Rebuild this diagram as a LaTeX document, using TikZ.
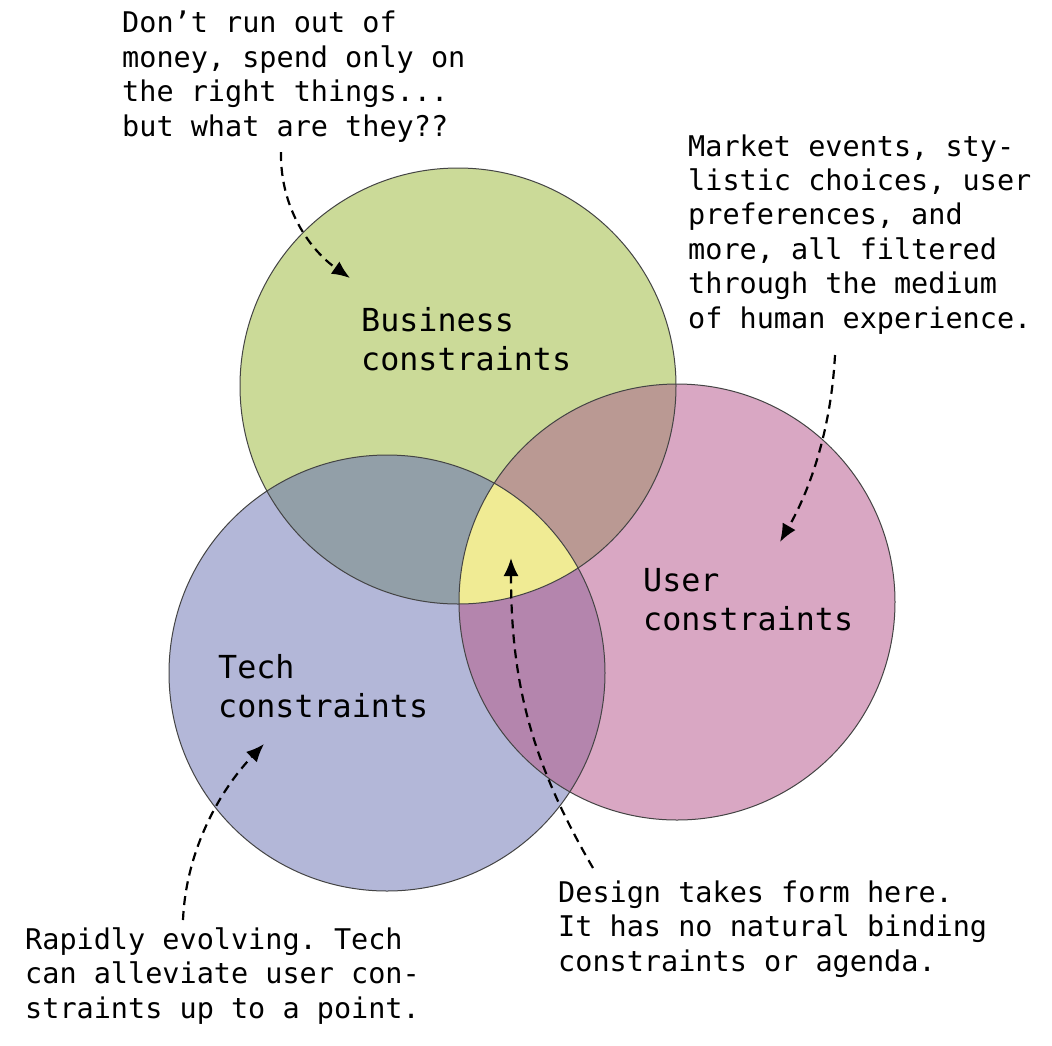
\documentclass[tikz,border=0pt]{standalone}
\usepackage{fontspec}
\setmonofont{DejaVu Sans Mono}
\usetikzlibrary{arrows.meta}
\definecolor{cgreen}{HTML}{CBDA98}
\definecolor{cblue}{HTML}{B3B7D8}
\definecolor{cpink}{HTML}{D9A7C3}
\definecolor{cgb}{HTML}{929FA8}
\definecolor{cgp}{HTML}{BA9993}
\definecolor{cbp}{HTML}{B485AD}
\definecolor{cyel}{HTML}{F0EB94}
\definecolor{cline}{HTML}{444444}
\tikzset{
  note/.style={font=\ttfamily\fontsize{28.5pt}{34.4pt}\selectfont, align=left, anchor=base west, inner sep=0pt},
  cname/.style={font=\ttfamily\fontsize{31.7pt}{38.4pt}\selectfont, align=left, anchor=base west, inner sep=0pt},
  ring/.style={draw=cline, line width=1pt},
  pointer/.style={draw=black, line width=2.2pt, dash pattern=on 9pt off 6pt, -{Latex[length=18pt,width=15pt]}}
}
\begin{document}
\begin{tikzpicture}[x=1pt,y=-1pt]
\useasboundingbox (0,0) rectangle (1052,1045);
\fill[white] (0,0) rectangle (1052,1045);
% circle centres
\coordinate (B) at (458,386);
\coordinate (T) at (387,673);
\coordinate (U) at (677,602);
% base fills
\fill[cgreen] (B) circle[radius=218pt];
\fill[cblue] (T) circle[radius=218pt];
\fill[cpink] (U) circle[radius=218pt];
% pairwise overlaps
\begin{scope}
  \clip (B) circle[radius=218pt];
  \fill[cgb] (T) circle[radius=218pt];
  \fill[cgp] (U) circle[radius=218pt];
\end{scope}
\begin{scope}
  \clip (T) circle[radius=218pt];
  \fill[cbp] (U) circle[radius=218pt];
\end{scope}
\begin{scope}
  \clip (B) circle[radius=218pt];
  \clip (T) circle[radius=218pt];
  \fill[cyel] (U) circle[radius=218pt];
\end{scope}
% outlines
\draw[ring] (B) circle[radius=218pt];
\draw[ring] (T) circle[radius=218pt];
\draw[ring] (U) circle[radius=218pt];
% circle labels (anchored at the baseline of the last line)
\node[cname] (lbus) at (361,370) {Business\\constraints};
\node[cname] (luser) at (643,630) {User\\constraints};
\node[cname] (ltech) at (218,717) {Tech\\constraints};
% annotations
\node[note] (nmoney) at (122,136) {Don’t run out of\\money, spend only on\\the right things...\\but what are they??};
\node[note] (nmarket) at (688,328) {Market events, sty-\\listic choices, user\\preferences, and\\more, all filtered\\through the medium\\of human experience.};
\node[note] (ntech) at (25,1018) {Rapidly evolving. Tech\\can alleviate user con-\\straints up to a point.};
\node[note] (ndesign) at (558,971) {Design takes form here.\\It has no natural binding\\constraints or agenda.};
% arrow ends
\coordinate (s1) at (281,152);
\coordinate (e1) at (350,278);
\coordinate (s2) at (835,355);
\coordinate (e2) at (780,542);
\coordinate (s3) at (183,920);
\coordinate (e3) at (264,744);
\coordinate (s4) at (593,868);
\coordinate (e4) at (511,558);
\draw[pointer] (s1) .. controls (280,208) and (310,250) .. (e1);
\draw[pointer] (s2) .. controls (831,430) and (810,490) .. (e2);
\draw[pointer] (s3) .. controls (186,850) and (220,790) .. (e3);
\draw[pointer] (s4) .. controls (530,760) and (511,680) .. (e4);
\end{tikzpicture}
\end{document}
